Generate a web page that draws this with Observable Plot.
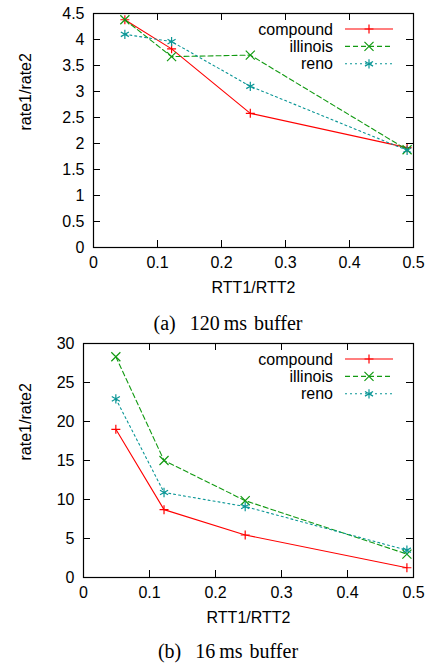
<!DOCTYPE html>
<html>
<head>
<meta charset="utf-8">
<script src="https://cdn.jsdelivr.net/npm/d3@7"></script>
<script src="https://cdn.jsdelivr.net/npm/@observablehq/plot@0.6"></script>
<style>
  html, body { margin: 0; padding: 0; background: #fff; }
  #wrap { position: relative; width: 432px; height: 664px; overflow: hidden; }
  .panel { position: absolute; left: 0; }
  .caption { position: absolute; left: 0; width: 456px; text-align: center;
    font-family: "Liberation Serif", "Times New Roman", serif; font-size: 20px;
    line-height: 20px; color: #000; word-spacing: 2px; white-space: nowrap; }
</style>
</head>
<body>
<div id="wrap"></div>
<script>
// ---- data ----
const rttRatio = [0.049, 0.122, 0.245, 0.49];
const seriesNames = ["compound", "illinois", "reno"];

const a_compound = [4.38, 3.82, 2.58, 1.92];
const a_illinois = [4.38, 3.67, 3.70, 1.88];
const a_reno     = [4.10, 3.96, 3.10, 1.87];

const b_compound = [19.0, 8.7, 5.45, 1.25];
const b_illinois = [28.3, 15.0, 9.85, 3.0];
const b_reno     = [22.9, 10.9, 9.1, 3.5];

const xTicks = [0, 0.1, 0.2, 0.3, 0.4, 0.5];
const a_yTicks = [0, 0.5, 1, 1.5, 2, 2.5, 3, 3.5, 4, 4.5];
const b_yTicks = [0, 5, 10, 15, 20, 25, 30];

const captions = ["(a)\u00a0 120\u2009ms buffer", "(b)\u00a0 16\u2009ms buffer"];

// ---- styles ----
const styles = {
  compound: {color: "#ff0000", dash: null, symbol: "plus", r: 3.0},
  illinois: {color: "#129a12", dash: "5,3", symbol: "times", r: 4.2},
  reno:     {color: "#0a9696", dash: "2,3", symbol: "asterisk", r: 4.4}
};
const FONT = "Liberation Sans, Arial, sans-serif";

function makePanel({values, yTicks, yDomain, marginLeft, top}) {
  const height = 300, marginTop = 13, marginBottom = 53, marginRight = 19;
  const innerH = height - marginTop - marginBottom;
  const width = 432;
  const innerW = width - marginLeft - marginRight;
  const tick = 7;
  const marks = [];
  seriesNames.forEach((name, i) => {
    const data = rttRatio.map((x, j) => ({x, y: values[i][j]}));
    const s = styles[name];
    marks.push(Plot.line(data, {x: "x", y: "y", stroke: s.color, strokeWidth: 1.1,
      strokeDasharray: s.dash}));
    marks.push(Plot.dot(data, {x: "x", y: "y", symbol: () => s.symbol, stroke: s.color,
      fill: "none", r: s.r, strokeWidth: 1.2}));
  });
  // inward ticks on all sides
  marks.push(Plot.tickX(xTicks, {x: d => d, insetTop: innerH - tick, stroke: "#000"}));
  marks.push(Plot.tickX(xTicks, {x: d => d, insetBottom: innerH - tick, stroke: "#000"}));
  marks.push(Plot.tickY(yTicks, {y: d => d, insetRight: innerW - tick, stroke: "#000"}));
  marks.push(Plot.tickY(yTicks, {y: d => d, insetLeft: innerW - tick, stroke: "#000"}));
  marks.push(Plot.axisX(xTicks, {tickSize: 0, tickPadding: 9, fontSize: 16, label: null,
    tickFormat: d => String(d)}));
  marks.push(Plot.axisY(yTicks, {tickSize: 0, tickPadding: 9, fontSize: 16, label: null,
    tickFormat: d => String(d)}));
  marks.push(Plot.text(["RTT1/RTT2"], {frameAnchor: "bottom", dy: 40, fontSize: 16,
    lineAnchor: "middle", text: d => d}));
  marks.push(Plot.text(["rate1/rate2"], {frameAnchor: "left", dx: 25 - marginLeft, rotate: -90,
    fontSize: 16, text: d => d}));
  marks.push(Plot.frame({stroke: "#000", strokeWidth: 1.2}));

  const svg = Plot.plot({
    width, height, marginTop, marginBottom, marginLeft, marginRight,
    style: {fontFamily: FONT, fontSize: "16px", color: "#000", background: "#fff"},
    x: {domain: [0, 0.5], axis: null},
    y: {domain: yDomain, axis: null},
    marks
  });
  // legend
  const g = d3.select(svg).append("g").attr("font-family", FONT).attr("font-size", 16);
  seriesNames.forEach((name, i) => {
    const s = styles[name];
    const yy = 29 + i * 17.4;
    g.append("text").attr("x", 333).attr("y", yy).attr("dy", "0.35em")
      .attr("text-anchor", "end").attr("fill", "#000").text(name);
    g.append("line").attr("x1", 345).attr("x2", 393).attr("y1", yy).attr("y2", yy)
      .attr("stroke", s.color).attr("stroke-width", 1.1)
      .attr("stroke-dasharray", s.dash);
    const sym = {plus: d3.symbolPlus, times: d3.symbolTimes, asterisk: d3.symbolAsterisk}[s.symbol];
    g.append("path").attr("transform", `translate(369,${yy})`)
      .attr("d", d3.symbol(sym, Math.PI * s.r * s.r)())
      .attr("fill", "none").attr("stroke", s.color).attr("stroke-width", 1.2);
  });
  const div = document.createElement("div");
  div.className = "panel";
  div.style.top = top + "px";
  div.appendChild(svg);
  return div;
}

const wrap = document.getElementById("wrap");
wrap.appendChild(makePanel({values: [a_compound, a_illinois, a_reno], yTicks: a_yTicks,
  yDomain: [0, 4.5], marginLeft: 93, top: 0}));
wrap.appendChild(makePanel({values: [b_compound, b_illinois, b_reno], yTicks: b_yTicks,
  yDomain: [0, 30], marginLeft: 83, top: 330}));

const capTops = [313, 641];
captions.forEach((c, i) => {
  const d = document.createElement("div");
  d.className = "caption";
  d.style.top = capTops[i] + "px";
  d.textContent = c;
  wrap.appendChild(d);
});
</script>
</body>
</html>
